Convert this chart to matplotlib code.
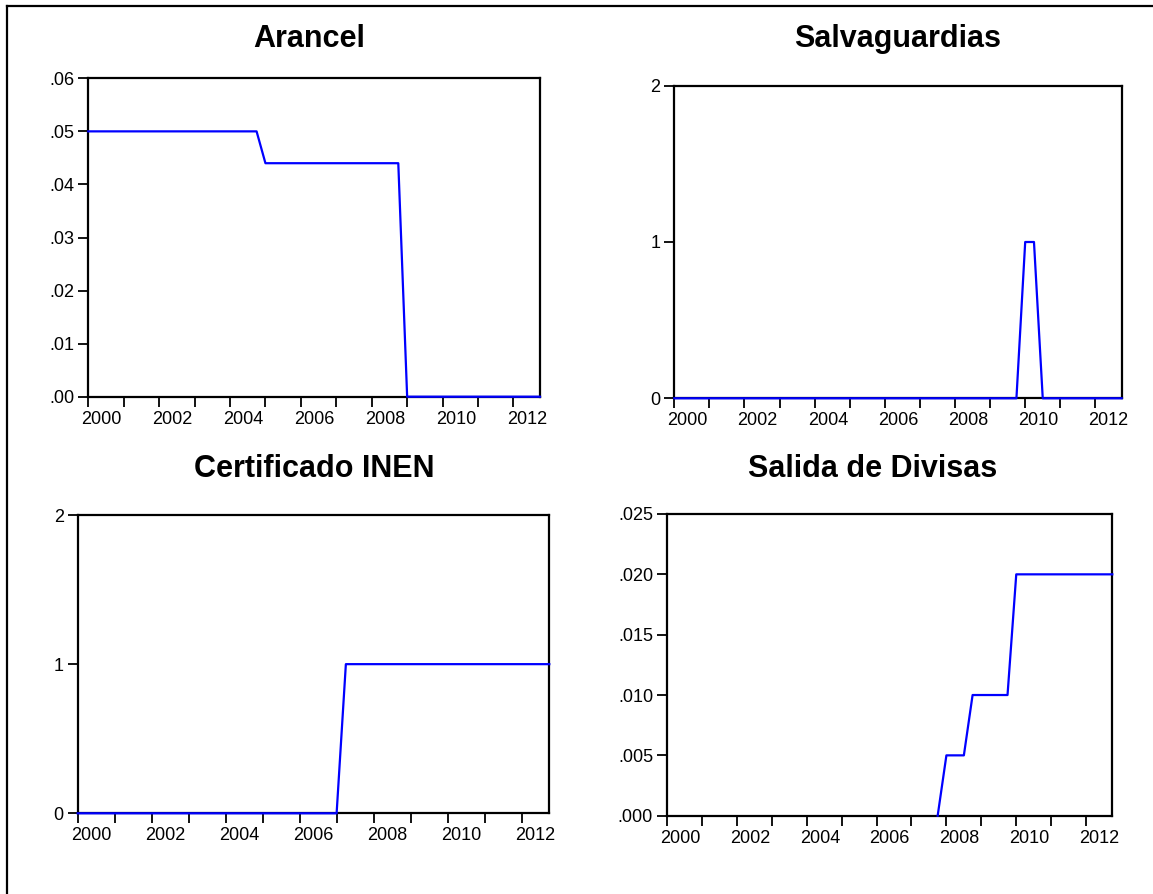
import numpy as np
import matplotlib
matplotlib.use("Agg")
import matplotlib.pyplot as plt
from matplotlib.lines import Line2D

plt.rcParams['font.family'] = ['Liberation Sans', 'DejaVu Sans']

# ---------------- data (quarterly, 2000Q1 - 2012Q4) ----------------
quarters = [f"{y}Q{q}" for y in range(2000, 2013) for q in range(1, 5)]

arancel = [0.05] * 0 + [
    0.05, 0.05, 0.05, 0.05, 0.05, 0.05, 0.05, 0.05, 0.05, 0.05,
    0.05, 0.05, 0.05, 0.05, 0.05, 0.05, 0.05, 0.05, 0.05, 0.05,
    0.044, 0.044, 0.044, 0.044, 0.044, 0.044, 0.044, 0.044,
    0.044, 0.044, 0.044, 0.044, 0.044, 0.044, 0.044, 0.044,
    0, 0, 0, 0, 0, 0, 0, 0, 0, 0, 0, 0, 0, 0, 0, 0]

salvaguardias = [
    0, 0, 0, 0, 0, 0, 0, 0, 0, 0, 0, 0, 0, 0, 0, 0, 0, 0, 0, 0,
    0, 0, 0, 0, 0, 0, 0, 0, 0, 0, 0, 0, 0, 0, 0, 0, 0, 0, 0, 0,
    1, 1,
    0, 0, 0, 0, 0, 0, 0, 0, 0, 0]

certificado = [
    0, 0, 0, 0, 0, 0, 0, 0, 0, 0, 0, 0, 0, 0, 0, 0, 0, 0, 0, 0,
    0, 0, 0, 0, 0, 0, 0, 0, 0,
    1, 1, 1, 1, 1, 1, 1, 1, 1, 1, 1, 1, 1, 1, 1, 1, 1, 1, 1, 1, 1, 1, 1]

nan = float('nan')
divisas = [nan] * 31 + [
    0.0, 0.005, 0.005, 0.005, 0.01, 0.01, 0.01, 0.01, 0.01,
    0.02, 0.02, 0.02, 0.02, 0.02, 0.02, 0.02, 0.02, 0.02, 0.02, 0.02, 0.02]

titles = ["Arancel", "Salvaguardias", "Certificado INEN", "Salida de Divisas"]
yticks_list = [
    [0.0, 0.01, 0.02, 0.03, 0.04, 0.05, 0.06],
    [0, 1, 2],
    [0, 1, 2],
    [0.0, 0.005, 0.010, 0.015, 0.020, 0.025],
]
ytick_labels = [
    [".00", ".01", ".02", ".03", ".04", ".05", ".06"],
    ["0", "1", "2"],
    ["0", "1", "2"],
    [".000", ".005", ".010", ".015", ".020", ".025"],
]
year_labels = ["2000", "2002", "2004", "2006", "2008", "2010", "2012"]

# ---------------- layout ----------------
W, H = 1153, 894
DPI = 100
fig = plt.figure(figsize=(W / DPI, H / DPI), dpi=DPI)

def qnum(s):
    y, q = s.split("Q")
    return int(y) + (int(q) - 1) / 4.0

x = np.array([qnum(s) for s in quarters])

# panel rectangles in pixels: left, top, right, bottom
boxes = [
    (88.3, 78.3, 540.0, 396.7),
    (674.3, 85.7, 1121.7, 398.3),
    (77.7, 515.0, 549.3, 813.3),
    (667.0, 514.0, 1112.3, 815.7),
]
title_pos = [(309, 47), (898, 47), (314, 477), (873, 477)]
series = [arancel, salvaguardias, certificado, divisas]

for i in range(4):
    l, t, r, b = boxes[i]
    ax = fig.add_axes([l / W, 1 - b / H, (r - l) / W, (b - t) / H])
    ax.plot(x, np.array(series[i], dtype=float), color=(0, 0, 1), lw=1.6,
            zorder=3, clip_on=False)
    ax.set_xlim(2000, 2012.75)
    ax.set_ylim(yticks_list[i][0], yticks_list[i][-1])
    for s in ax.spines.values():
        s.set_linewidth(1.6)
        s.set_color("black")
    ax.set_yticks(yticks_list[i])
    ax.set_yticklabels(ytick_labels[i])
    ax.tick_params(axis='y', direction='out', length=7, width=1.3,
                   pad=3, labelsize=13)
    ax.set_xticks(list(range(2000, 2013)))
    ax.set_xticklabels([])
    ax.tick_params(axis='x', which='major', direction='out', length=7,
                   width=1.3)
    ax.set_xticks([int(y) + 0.375 for y in year_labels], minor=True)
    ax.set_xticklabels(year_labels, minor=True)
    ax.tick_params(axis='x', which='minor', length=0, pad=10, labelsize=13)
    fig.text(title_pos[i][0] / W, 1 - title_pos[i][1] / H, titles[i],
             ha='center', va='baseline', fontsize=22, fontweight='bold')

# outer frame (left and top)
fig.add_artist(Line2D([7 / W, 7 / W], [0, 1 - 6 / H], color='black', lw=1.6,
                      transform=fig.transFigure))
fig.add_artist(Line2D([7 / W, 1], [1 - 6 / H, 1 - 6 / H], color='black',
                      lw=1.6, transform=fig.transFigure))

fig.savefig("out.png", dpi=DPI)
